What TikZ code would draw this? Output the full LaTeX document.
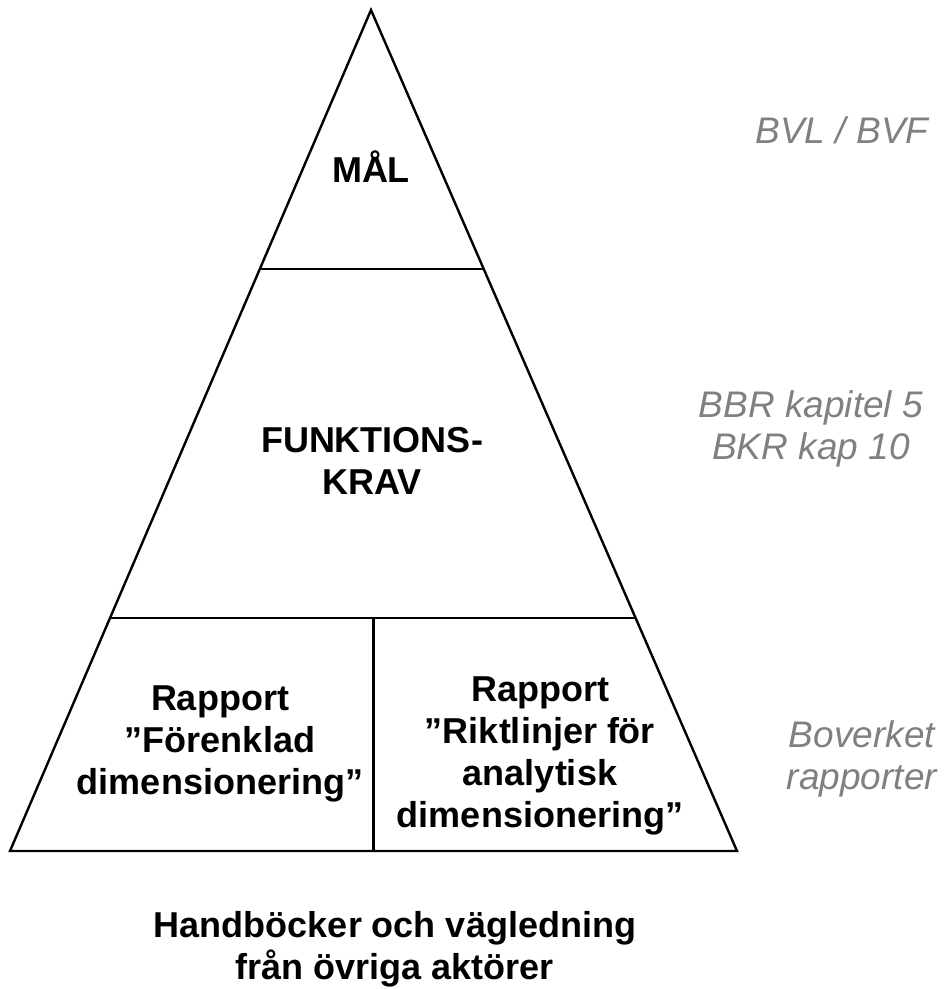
\documentclass[tikz,border=0pt]{standalone}
\usepackage{fontspec}
\setmainfont{Liberation Sans}
\usepackage{xcolor}
\usepackage{tikz}
\usetikzlibrary{calc}
\definecolor{notegray}{RGB}{128,128,128}

\begin{document}
\begin{tikzpicture}[x=1pt,y=-1pt,line width=2.4pt,
    every node/.style={font=\fontsize{36}{42}\selectfont\bfseries,align=center,inner sep=0pt,anchor=base},
    srcnote/.style={font=\fontsize{37}{42}\selectfont\itshape,text=notegray}]
  \useasboundingbox (0,0) rectangle (949,989);
  % pyramid
  \coordinate (top) at (371,10);
  \coordinate (bl) at (10,851);
  \coordinate (br) at (737,851);
  \coordinate (bm) at ($(bl)!0.5!(br)$);
  \coordinate (ul) at ($(top)!0.308!(bl)$);
  \coordinate (ur) at ($(top)!0.308!(br)$);
  \coordinate (ml) at ($(top)!0.723!(bl)$);
  \coordinate (mr) at ($(top)!0.723!(br)$);
  \draw (top) -- (bl) -- (br) -- cycle;
  \draw (ul) -- (ur);
  \draw (ml) -- (mr);
  \draw (ml -| bm) -- (bm);
  % levels (anchor = baseline of last line)
  \node (goal) at (371,182) {MÅL};
  \node (func) at (372,494) {FUNKTIONS-\\KRAV};
  \node (simple) at (220,794) {Rapport\\”Förenklad\\dimensionering”};
  \node (analytic) at (540,827) {Rapport\\”Riktlinjer för\\analytisk\\dimensionering”};
  \node (hand) at (395,979) {Handböcker och vägledning\\från övriga aktörer};
  % sources
  \node[srcnote] (bvl) at (842,143) {BVL / BVF};
  \node[srcnote] (bbr) at (811,459) {BBR kapitel 5\\BKR kap 10};
  \node[srcnote] (bov) at (862,789) {Boverket\\rapporter};
\end{tikzpicture}
\end{document}
